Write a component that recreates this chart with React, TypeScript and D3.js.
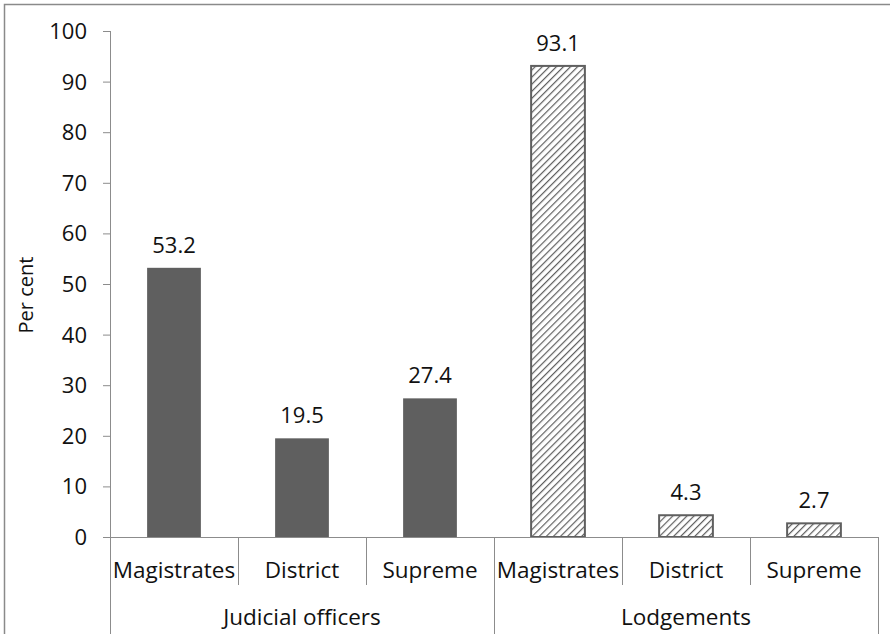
import React from "react";
import * as d3 from "d3";

const groups = ["Judicial officers", "Lodgements"];
const courts = ["Magistrates", "District", "Supreme"];
const judicialValues = [53.2, 19.5, 27.4];
const lodgementValues = [93.1, 4.3, 2.7];
const yTicks = [0, 10, 20, 30, 40, 50, 60, 70, 80, 90, 100];

const W = 890;
const H = 634;
const left = 110;
const right = 878;
const top = 31;
const bottom = 537;
const FONT = "'Open Sans', 'Noto Sans', sans-serif";
const AXIS = "#8c8c8c";
const BAR = "#5f5f5f";
const INK = "#111";

export default function App() {
  const rows = groups.flatMap((g, gi) =>
    courts.map((c, ci) => ({
      key: `${g}-${c}`,
      group: g,
      court: c,
      hatched: gi === 1,
      value: gi === 0 ? judicialValues[ci] : lodgementValues[ci],
    }))
  );

  const x = d3
    .scaleBand<string>()
    .domain(rows.map((r) => r.key))
    .range([left, right])
    .paddingInner(0.58)
    .paddingOuter(0.29);
  const slot = d3
    .scaleBand<string>()
    .domain(rows.map((r) => r.key))
    .range([left, right]);
  const y = d3.scaleLinear().domain([0, 100]).range([bottom, top]);

  const groupWidth = (right - left) / groups.length;

  return (
    <svg
      width={W}
      height={H}
      style={{ position: "absolute", left: 0, top: 0, background: "#fff" }}
      fontFamily={FONT}
    >
      <defs>
        <pattern
          id="hatch"
          patternUnits="userSpaceOnUse"
          width={5}
          height={5}
          patternTransform="rotate(45)"
        >
          <rect width={5} height={5} fill="#fff" />
          <line x1={0} y1={0} x2={0} y2={5} stroke={BAR} strokeWidth={2.4} />
        </pattern>
      </defs>

      {/* outer frame */}
      <path d={`M4.5,${H + 2} V4.5 H${W + 2}`} fill="none" stroke="#8a8a8a" strokeWidth={1.5} />

      {/* y axis */}
      <line x1={left + 0.5} x2={left + 0.5} y1={top} y2={bottom} stroke={AXIS} />
      {yTicks.map((t) => (
        <g key={t}>
          <line x1={left - 7} x2={left} y1={y(t) + 0.5} y2={y(t) + 0.5} stroke={AXIS} />
          <text
            x={87}
            y={y(t)}
            dy="0.36em"
            textAnchor="end"
            fontSize={22}
            fill={INK}
          >
            {t}
          </text>
        </g>
      ))}
      <text
        transform={`translate(33,295) rotate(-90)`}
        textAnchor="middle"
        fontSize={20}
        fill={INK}
      >
        Per cent
      </text>

      {/* bars */}
      {rows.map((r) => (
        <g key={r.key}>
          <rect
            x={x(r.key)}
            y={y(r.value)}
            width={x.bandwidth()}
            height={bottom - y(r.value)}
            fill={r.hatched ? "url(#hatch)" : BAR}
            stroke={r.hatched ? BAR : "none"}
            strokeWidth={r.hatched ? 2 : 0}
          />
          <text
            x={(x(r.key) ?? 0) + x.bandwidth() / 2}
            y={y(r.value) - 15}
            textAnchor="middle"
            fontSize={22}
            fill={INK}
          >
            {r.value.toFixed(1)}
          </text>
        </g>
      ))}

      {/* category axis */}
      <line x1={left} x2={right} y1={bottom + 0.5} y2={bottom + 0.5} stroke={AXIS} />
      {rows.map((r, i) => {
        const sx = slot(r.key) ?? 0;
        const isGroupEdge = i % courts.length === 0;
        return (
          <g key={`c-${r.key}`}>
            <line
              x1={sx + 0.5}
              x2={sx + 0.5}
              y1={bottom}
              y2={isGroupEdge ? H : bottom + 48}
              stroke={AXIS}
            />
            <text
              x={sx + slot.bandwidth() / 2}
              y={578}
              textAnchor="middle"
              fontSize={22.5}
              fill={INK}
            >
              {r.court}
            </text>
          </g>
        );
      })}
      <line x1={right + 0.5} x2={right + 0.5} y1={bottom} y2={H} stroke={AXIS} />
      {groups.map((g, gi) => (
        <text
          key={g}
          x={left + groupWidth * (gi + 0.5)}
          y={625}
          textAnchor="middle"
          fontSize={22.5}
          fill={INK}
        >
          {g}
        </text>
      ))}
    </svg>
  );
}
